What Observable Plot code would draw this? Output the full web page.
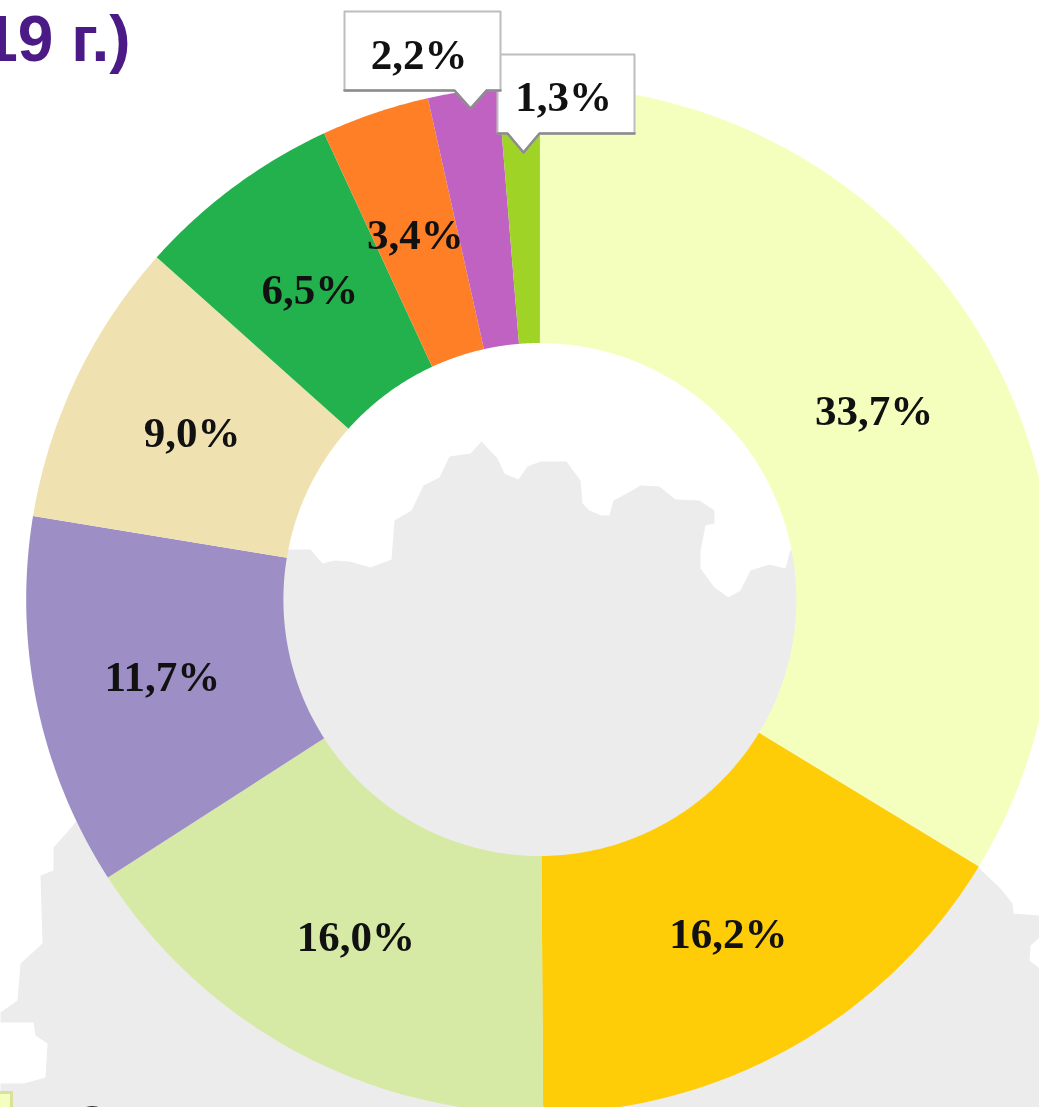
<!DOCTYPE html>
<html><head><meta charset="utf-8">
<script src="https://cdn.jsdelivr.net/npm/d3@7"></script>
<script src="https://cdn.jsdelivr.net/npm/@observablehq/plot@0.6"></script>
<style>html,body{margin:0;padding:0;background:#fff;overflow:hidden}svg{display:block;filter:blur(0.6px)}</style>
</head><body><div id="chart"></div>
<script>
const shares = [33.7, 16.2, 16.0, 11.7, 9.0, 6.5, 3.4, 2.2, 1.3];
const labels = ["33,7%","16,2%","16,0%","11,7%","9,0%","6,5%","3,4%","2,2%","1,3%"];
const colors = ["#F5FFBD","#FFCC08","#D7EAA5","#9D8EC6","#F0E2B0","#23B14D","#FF7F27","#C062C2","#9FD326"];
const title = "2019 г.)";
const mapTop = [[287,549],[310,549],[322,563],[334,560],[349,561],[370,567],[391,559],[394,520],[411,510],[423,485],[439,477],[449,456],[470,453],[481,441],[497,458],[504,473],[518,479],[527,466],[540,461],[566,461],[580,480],[582,503],[589,510],[601,515],[609,515],[613,500],[630,491],[640,485],[659,486],[675,499],[699,500],[714,510],[714,523],[705,525],[700,551],[700,568],[714,587],[728,597],[740,590],[750,570],[769,564],[785,568],[790,549]];
const mapRight = [[978,867],[1000,888],[1012,903],[1013,913],[1039,915],[1039,937],[1030,945],[1029,960],[1039,968],[1039,1107]];
const mapLeft = [[0,1107],[0,1083],[23,1083],[45,1077],[47,1043],[35,1035],[33,1022],[0,1022],[0,1012],[17,1000],[20,963],[42,943],[40,875],[53,870],[53,847],[70,828]];

const W = 1039, H = 1107, cx = 539.4, cy = 599, R = 513.7, r = 256.5;
const pie = d3.pie().sort(null).value(d => d)(shares);
const arcPts = (a0, a1, rad) => d3.range(0, 61).map(i => {
  const a = a0 + (a1 - a0) * i / 60;
  return [cx + rad * Math.sin(a), cy - rad * Math.cos(a)];
});
const slices = pie.flatMap((p, i) =>
  [...arcPts(p.startAngle, p.endAngle, R), ...arcPts(p.endAngle, p.startAngle, r)]
    .map(([x, y]) => ({x, y, i})));
const mid = p => (p.startAngle + p.endAngle) / 2;
const inside = pie.slice(0, 7).map((p, i) => ({
  x: cx + 384.5 * Math.sin(mid(p)) - 1, y: cy - 384.5 * Math.cos(mid(p)), t: labels[i]}));

// callouts: [slice index, tip x, tip y, box left, right, top, bottom, label x, label y]
const callouts = [[8, 523, 152, 497, 634, 54, 133, 563, 97], [7, 470, 108, 344, 500, 11, 90, 418.5, 55]];
const calloutRows = callouts.map(([i, tx, ty, x0, x1, y0, y1, lx, ly]) => ({i, tx, ty, x0, x1, y0, y1, lx, ly, t: labels[i]}));
const boxPts = c => [[c.x0,c.y0],[c.x1,c.y0],[c.x1,c.y1],[c.tx+16,c.y1],[c.tx,c.ty],[c.tx-16,c.y1],[c.x0,c.y1],[c.x0,c.y0]];
const edgePts = c => [[c.x0,c.y1],[c.tx-16,c.y1],[c.tx,c.ty],[c.tx+16,c.y1],[c.x1,c.y1]];
const mapPts = [...mapTop, ...mapRight, ...mapLeft].map(([x, y]) => ({x, y}));

const calloutMarks = c => [
  Plot.line(boxPts(c).map(([x, y]) => ({x, y})), {x: "x", y: "y", fill: "#fff", stroke: "#BDBDBD", strokeWidth: 2}),
  Plot.line(edgePts(c).map(([x, y]) => ({x, y})), {x: "x", y: "y", stroke: "#8C8C8C", strokeWidth: 2.5}),
  Plot.text([c], {x: "lx", y: "ly", text: "t", fontFamily: "Liberation Serif", fontWeight: "bold", fontSize: 43, fill: "#111", textAnchor: "middle", lineAnchor: "middle"})
];

const chart = Plot.plot({
  width: W, height: H, margin: 0,
  x: {domain: [0, W], range: [0, W], axis: null},
  y: {domain: [0, H], range: [0, H], axis: null},
  style: {background: "#fff", overflow: "hidden"},
  marks: [
    Plot.line(mapPts, {x: "x", y: "y", fill: "#ECECEC", curve: "linear-closed"}),
    Plot.rect([{}], {x1: () => -3, x2: () => 11.5, y1: () => 1092.5, y2: () => 1112, fill: "#F5FFBD", stroke: "#DDE09A", strokeWidth: 3}),
    Plot.text([{}], {x: () => 91, y: () => 1136, text: () => "С", fontFamily: "Liberation Sans", fontSize: 44, fill: "#333", lineAnchor: "bottom"}),
    ...shares.map((_, i) => Plot.line(slices.filter(d => d.i === i), {x: "x", y: "y", fill: colors[i], curve: "linear-closed"})),
    Plot.text(inside, {x: "x", y: "y", text: "t", fontFamily: "Liberation Serif", fontWeight: "bold", fontSize: 43, fill: "#111", textAnchor: "middle", lineAnchor: "middle"}),
    ...calloutRows.flatMap(calloutMarks),
    Plot.text([title], {x: () => 130, y: () => 40, text: d => d, fontFamily: "Liberation Sans", fontWeight: "bold", fontSize: 64, fill: "#4B1A87", textAnchor: "end", lineAnchor: "middle"})
  ]
});
document.getElementById("chart").append(chart);
</script></body></html>
